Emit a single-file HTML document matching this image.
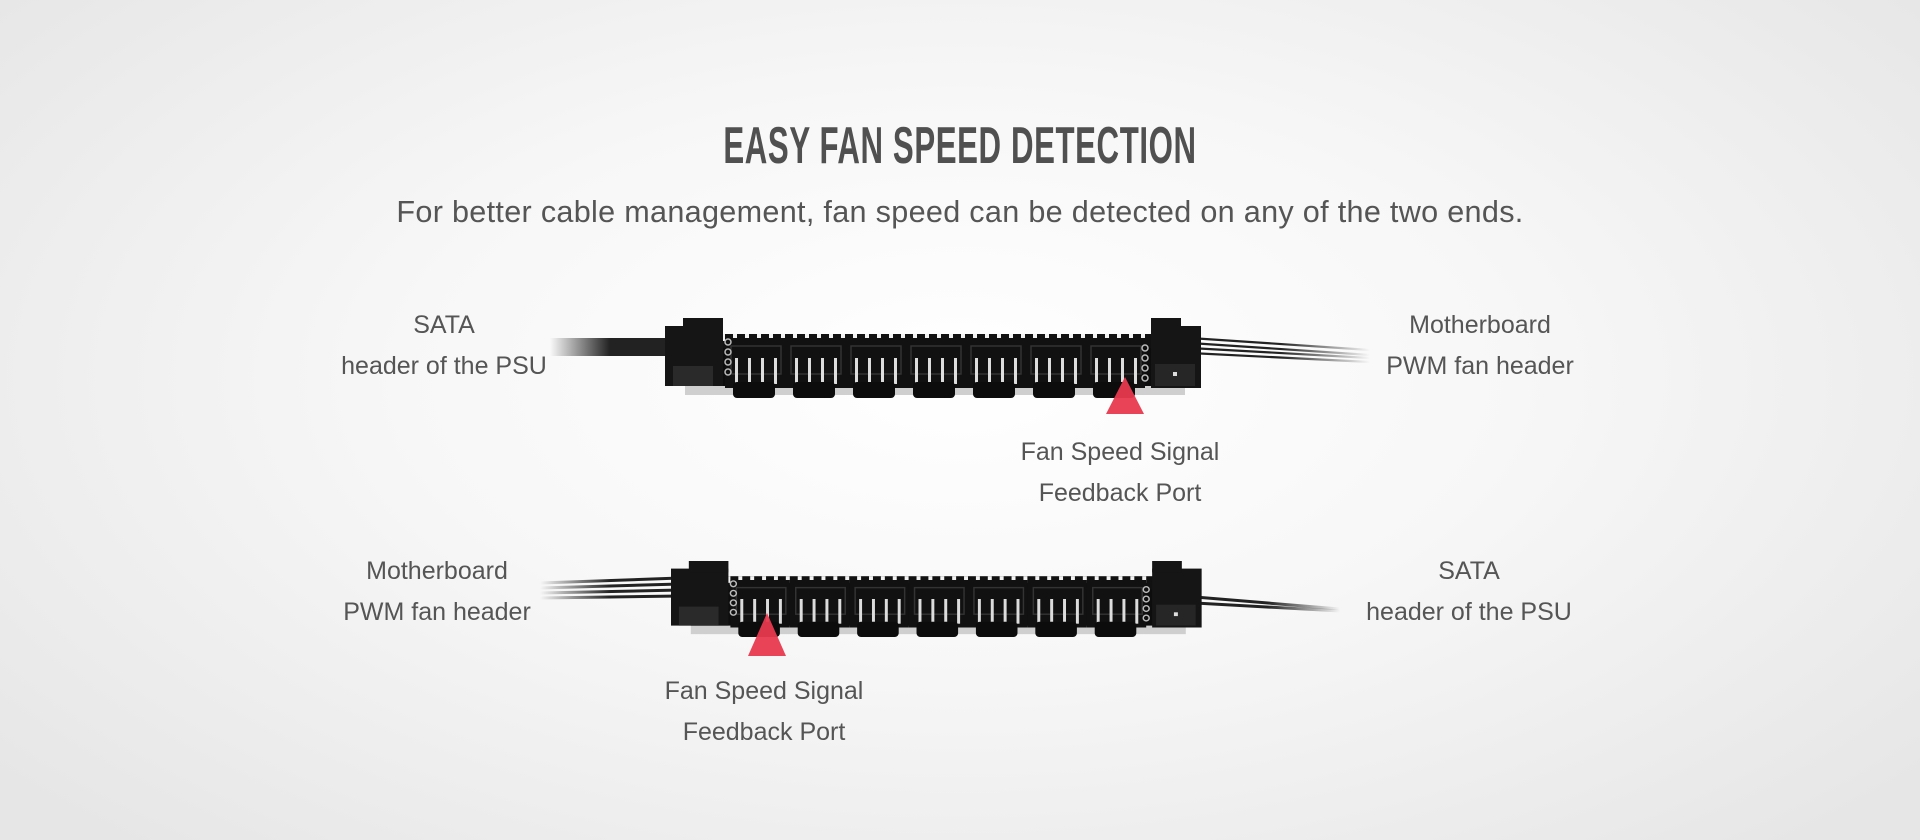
<!DOCTYPE html>
<html><head><meta charset="utf-8"><style>
html,body{margin:0;padding:0}
body{width:1920px;height:840px;overflow:hidden;position:relative;font-family:"Liberation Sans",sans-serif;color:#555;
background:radial-gradient(ellipse 65% 75% at 50% 45%,#ffffff 0%,#f7f7f7 45%,#e6e6e6 100%)}
.t{position:absolute;left:0;width:1920px;text-align:center}
.title{top:116px;font-size:52px;font-weight:bold;color:#505050;letter-spacing:1px;transform:scaleX(0.6);transform-origin:960px 0}
.sub{top:195px;font-size:30.6px;color:#555;letter-spacing:0.3px}
.lab{position:absolute;width:400px;text-align:center;font-size:25px;line-height:41px;color:#555}
svg{position:absolute;left:0;top:0}
</style></head><body>
<div class="t title">EASY FAN SPEED DETECTION</div>
<div class="t sub">For better cable management, fan speed can be detected on any of the two ends.</div>

<div class="lab" style="left:244px;top:305px">SATA<br>header of the PSU</div>
<div class="lab" style="left:1280px;top:305px">Motherboard<br>PWM fan header</div>
<div class="lab" style="left:920px;top:432px">Fan Speed Signal<br>Feedback Port</div>
<div class="lab" style="left:237px;top:551px">Motherboard<br>PWM fan header</div>
<div class="lab" style="left:1269px;top:551px">SATA<br>header of the PSU</div>
<div class="lab" style="left:564px;top:671px">Fan Speed Signal<br>Feedback Port</div>

<svg width="1920" height="840" viewBox="0 0 1920 840">
<defs>
<linearGradient id="fl" x1="0" x2="1"><stop offset="0" stop-color="#222" stop-opacity="0"/><stop offset="0.5" stop-color="#222"/></linearGradient>
<linearGradient id="fr" x1="0" x2="1"><stop offset="0.5" stop-color="#222"/><stop offset="1" stop-color="#222" stop-opacity="0"/></linearGradient>
<g id="hdr">
<rect x="0" y="0" width="60" height="50" fill="#111"/>
<rect x="6" y="8" width="50" height="28" fill="none" stroke="#333" stroke-width="1.5"/>
<rect x="10" y="20" width="3" height="26" fill="#ddd"/>
<rect x="23" y="20" width="3" height="26" fill="#ddd"/>
<rect x="36" y="20" width="3" height="26" fill="#ddd"/>
<rect x="49" y="20" width="3" height="26" fill="#ddd"/>
<rect x="8" y="44" width="42" height="16" rx="4" fill="#0c0c0c"/>
</g>
<g id="board">
<rect x="20" y="66" width="500" height="11" fill="#cfcfcf"/>
<rect x="20" y="28" width="500" height="40" fill="#0d0d0d"/>
<g fill="#111">
<rect x="40" y="16" width="470" height="14"/>
</g>
<g fill="#f2f2f2">
<rect x="44" y="16" width="4" height="7"/><rect x="56" y="16" width="4" height="7"/><rect x="68" y="16" width="4" height="7"/><rect x="80" y="16" width="4" height="7"/><rect x="92" y="16" width="4" height="7"/><rect x="104" y="16" width="4" height="7"/><rect x="116" y="16" width="4" height="7"/><rect x="128" y="16" width="4" height="7"/><rect x="140" y="16" width="4" height="7"/><rect x="152" y="16" width="4" height="7"/><rect x="164" y="16" width="4" height="7"/><rect x="176" y="16" width="4" height="7"/><rect x="188" y="16" width="4" height="7"/><rect x="200" y="16" width="4" height="7"/><rect x="212" y="16" width="4" height="7"/><rect x="224" y="16" width="4" height="7"/><rect x="236" y="16" width="4" height="7"/><rect x="248" y="16" width="4" height="7"/><rect x="260" y="16" width="4" height="7"/><rect x="272" y="16" width="4" height="7"/><rect x="284" y="16" width="4" height="7"/><rect x="296" y="16" width="4" height="7"/><rect x="308" y="16" width="4" height="7"/><rect x="320" y="16" width="4" height="7"/><rect x="332" y="16" width="4" height="7"/><rect x="344" y="16" width="4" height="7"/><rect x="356" y="16" width="4" height="7"/><rect x="368" y="16" width="4" height="7"/><rect x="380" y="16" width="4" height="7"/><rect x="392" y="16" width="4" height="7"/><rect x="404" y="16" width="4" height="7"/><rect x="416" y="16" width="4" height="7"/><rect x="428" y="16" width="4" height="7"/><rect x="440" y="16" width="4" height="7"/><rect x="452" y="16" width="4" height="7"/><rect x="464" y="16" width="4" height="7"/><rect x="476" y="16" width="4" height="7"/><rect x="488" y="16" width="4" height="7"/><rect x="500" y="16" width="4" height="7"/>
</g>
<use href="#hdr" x="60" y="20"/><use href="#hdr" x="120" y="20"/><use href="#hdr" x="180" y="20"/><use href="#hdr" x="240" y="20"/><use href="#hdr" x="300" y="20"/><use href="#hdr" x="360" y="20"/><use href="#hdr" x="420" y="20"/>
<rect x="0" y="8" width="58" height="60" fill="#151515"/>
<rect x="18" y="0" width="40" height="12" fill="#151515"/>
<rect x="8" y="48" width="40" height="20" fill="#2a2a2a"/>
<g fill="none" stroke="#bbb" stroke-width="1.5"><circle cx="63" cy="24" r="3"/><circle cx="63" cy="34" r="3"/><circle cx="63" cy="44" r="3"/><circle cx="63" cy="54" r="3"/></g>
<g fill="none" stroke="#bbb" stroke-width="1.5"><circle cx="480" cy="30" r="3"/><circle cx="480" cy="40" r="3"/><circle cx="480" cy="50" r="3"/><circle cx="480" cy="60" r="3"/></g>
<rect x="486" y="8" width="50" height="62" fill="#151515"/>
<rect x="486" y="0" width="30" height="12" fill="#151515"/>
<rect x="490" y="46" width="40" height="22" fill="#262626"/>
<rect x="508" y="54" width="4" height="4" fill="#ddd"/>
</g>
</defs>
<rect x="550" y="338" width="120" height="18" fill="url(#fl)"/>
<g stroke="url(#fr)" stroke-width="2.2"><line x1="1190" y1="338" x2="1370" y2="350"/><line x1="1190" y1="343" x2="1370" y2="355"/><line x1="1190" y1="348" x2="1370" y2="358"/><line x1="1190" y1="353" x2="1370" y2="362"/></g>
<use href="#board" x="665" y="318"/>
<g stroke="url(#fl)" stroke-width="3"><line x1="540" y1="583" x2="680" y2="578"/><line x1="540" y1="588" x2="680" y2="584"/><line x1="540" y1="593" x2="680" y2="590"/><line x1="540" y1="598" x2="680" y2="596"/></g>
<g stroke="url(#fr)" stroke-width="3"><line x1="1195" y1="597" x2="1340" y2="609"/><line x1="1195" y1="603" x2="1340" y2="611"/></g>
<g transform="translate(671,561) scale(0.99,0.95)"><use href="#board"/></g>
<polygon points="1106,414 1144,414 1125,377" fill="#e8394f" opacity="0.95"/>
<polygon points="748,656 786,656 767,613" fill="#e8394f" opacity="0.95"/>
</svg>
</body></html>
